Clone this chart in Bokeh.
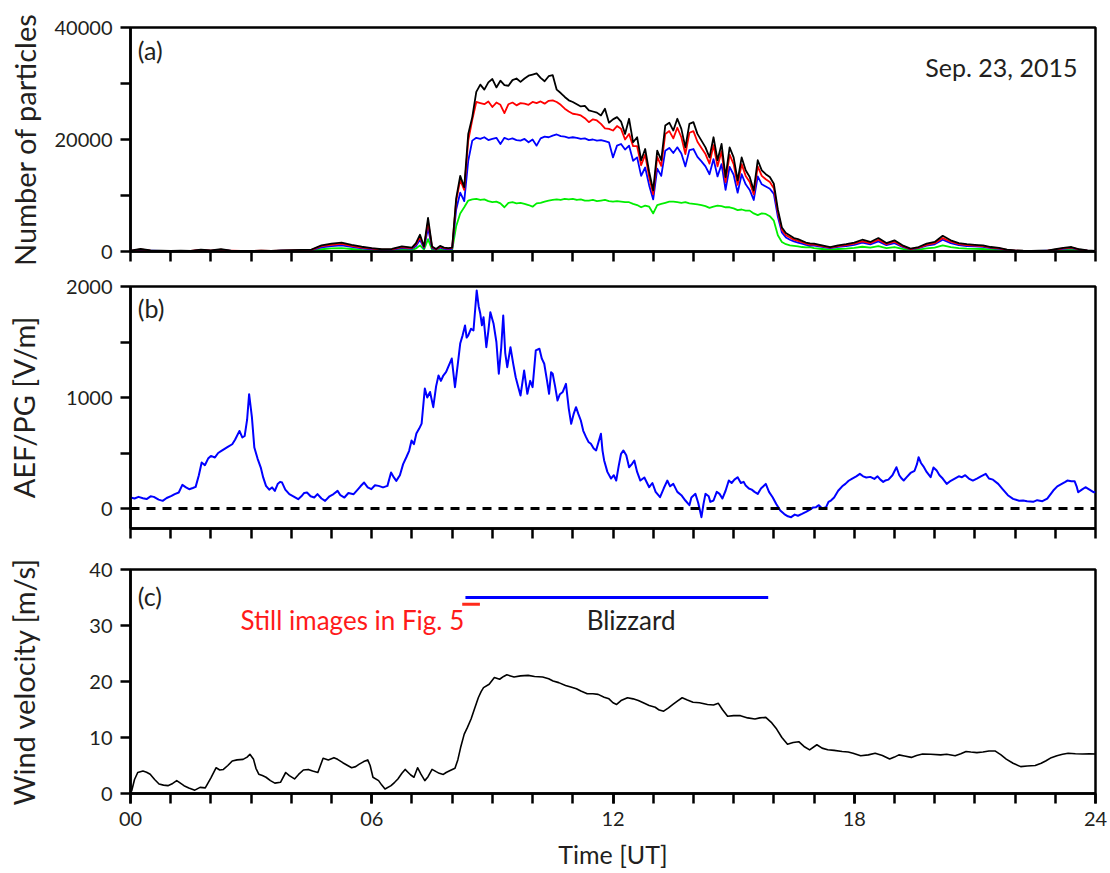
import numpy as np
from bokeh.plotting import figure
from bokeh.layouts import column
from bokeh.models import Range1d, FixedTicker, Span, Label
from bokeh.embed import file_html
from bokeh.resources import INLINE

FONT = "Lato"
INK = "#231f20"

# ---------------------------------------------------------------- (a) particle counts
# sample times in UT hours: 15-min steps before 07 UT, 6-min steps 07-17 UT, 12-min after
hours_particles = np.concatenate([
    np.arange(0, 28) * 0.25,
    np.arange(70, 170) / 10.0,
    np.arange(85, 121) * 0.2,
])

count_total = [
    150, 450, 200, 150, 100, 150, 120, 350, 180, 420, 150, 120, 100, 150,
    120, 200, 250, 300, 350, 1100, 1400, 1600, 1200, 850, 600, 400, 450, 900,
    700, 1500, 3000, 900, 6000, 900, 450, 1000, 700, 600,
    700, 9500, 13500, 11500, 21000, 24000, 28500, 29800, 28900, 30200,
    30800, 29300, 30500, 29700, 29600, 30600, 30900, 30300, 30900, 31400,
    31600, 31800, 31000, 30400, 31300, 31500, 28900, 28300, 27600, 27000,
    26700, 26300, 25900, 26000, 25200, 25000, 24800, 24300, 25500, 23000,
    23600, 24000, 23200, 21000, 23700, 19500, 20400, 16300, 18300, 14200,
    10900, 18000, 16300, 22500, 23000, 21600, 23700, 21900, 18600, 22800,
    23100, 21000, 19800, 18600, 16800, 20400, 16300, 19200, 13300, 18600,
    16800, 12700, 16800, 14500, 13300, 10900, 16300, 14500, 13800, 13300,
    12100, 7500, 4300, 3300, 2850, 2400, 2200, 1900, 1600, 1450,
    1400, 1100, 800, 1100, 1300, 1600, 2100, 1700, 2400, 1500,
    2000, 1100, 500, 800, 1400, 1700, 2800, 2000, 1500, 1300,
    1200, 1100, 800, 650, 350, 180, 130, 120, 130, 170,
    400, 650, 800, 400, 200, 120,
]

count_red = [
    120, 380, 170, 120, 90, 120, 100, 300, 150, 350, 130, 100, 90, 130,
    100, 170, 210, 250, 300, 950, 1200, 1350, 1000, 700, 500, 340, 380, 760,
    600, 1300, 2600, 780, 5300, 780, 380, 850, 600, 520,
    600, 9000, 12800, 11000, 19800, 23500, 26700, 26500, 26300, 26800,
    25800, 26600, 26200, 24700, 26300, 26600, 26100, 26500, 26400, 26200,
    26700, 26500, 26800, 26400, 26900, 27000, 26700, 26200, 25500, 25000,
    24600, 24500, 24300, 23800, 23100, 23600, 23400, 22800, 22000, 21900,
    21600, 22400, 21900, 20000, 21000, 18800, 18800, 15400, 17300, 13300,
    10200, 16900, 15300, 21000, 21500, 20200, 22100, 20400, 17400, 21200,
    21500, 19600, 18500, 17400, 15700, 19000, 15200, 17900, 12400, 17300,
    15600, 11900, 15600, 13500, 12400, 10200, 15200, 13500, 12900, 12400,
    11300, 7000, 3900, 2900, 2500, 2100, 1900, 1650, 1400, 1250,
    1220, 950, 700, 950, 1120, 1400, 1800, 1480, 2100, 1300,
    1750, 950, 430, 700, 1200, 1480, 2400, 1750, 1300, 1130,
    1050, 950, 700, 560, 300, 150, 110, 100, 110, 150,
    350, 560, 700, 350, 170, 100,
]

count_blue = [
    100, 300, 130, 100, 70, 100, 80, 240, 120, 290, 100, 80, 70, 100,
    80, 140, 170, 200, 240, 750, 950, 1100, 820, 580, 400, 270, 300, 600,
    480, 1000, 2100, 600, 4200, 600, 300, 680, 480, 400,
    480, 7500, 10500, 9000, 16200, 19800, 20300, 20100, 20400, 19900,
    20100, 20300, 19200, 20300, 20000, 20200, 19900, 19800, 20100, 19500,
    20000, 18900, 20200, 20500, 20400, 20700, 20900, 20600, 20500, 20300,
    20400, 20300, 20100, 20200, 19900, 20000, 19800, 19900, 19700, 19500,
    16800, 18900, 19200, 18200, 18900, 16200, 16800, 13500, 15000, 11800,
    9300, 14800, 13500, 18000, 18500, 17600, 18600, 17500, 15200, 18100,
    18300, 16900, 16100, 15200, 13800, 16500, 13400, 15600, 11000, 15100,
    13700, 10500, 13800, 12000, 11000, 9200, 13400, 12000, 11600, 11200,
    10300, 6200, 3400, 2500, 2100, 1800, 1600, 1400, 1200, 1050,
    1050, 830, 600, 830, 980, 1200, 1580, 1280, 1800, 1130,
    1500, 830, 380, 600, 1050, 1280, 2100, 1500, 1130, 980,
    900, 830, 600, 490, 260, 130, 100, 90, 100, 130,
    300, 490, 600, 300, 150, 90,
]

count_green = [
    50, 150, 70, 50, 40, 50, 40, 120, 60, 150, 50, 40, 40, 50,
    40, 70, 90, 100, 120, 400, 550, 600, 450, 300, 200, 140, 160, 320,
    250, 550, 1100, 320, 2200, 320, 160, 350, 250, 210,
    250, 4500, 6800, 7900, 9100, 9300, 9400, 9200, 9300, 9000,
    8800, 8900, 8600, 7900, 8700, 8800, 8600, 8700, 8500, 8300,
    8000, 8600, 8700, 8900, 9100, 9200, 9300, 9200, 9400, 9300,
    9400, 9200, 9300, 9100, 9100, 9200, 9000, 9100, 9200, 9000,
    8900, 9000, 8900, 8800, 8800, 8500, 8300, 7900, 8200, 8000,
    6800, 8300, 8500, 8700, 8900, 8900, 8800, 8700, 8800, 8600,
    8500, 8400, 8300, 8100, 7800, 8000, 8200, 8100, 7900, 7900,
    7700, 7400, 7500, 7300, 7300, 6800, 6500, 6800, 6700, 6300,
    5500, 2900, 1700, 1300, 1100, 1000, 900, 800, 750, 800,
    600, 450, 320, 450, 520, 640, 850, 680, 950, 600,
    800, 450, 200, 320, 560, 680, 1100, 800, 600, 520,
    480, 450, 320, 260, 140, 70, 50, 50, 50, 70,
    160, 260, 320, 160, 80, 50,
]

for series in (count_total, count_red, count_blue, count_green):
    assert len(series) == len(hours_particles)

# ---------------------------------------------------------------- (b) atmospheric electric field
hours_pg = [
    0.00, 0.10, 0.20, 0.31, 0.40, 0.50, 0.58, 0.70, 0.80, 0.90, 1.02, 1.10, 1.20, 1.29,
    1.38, 1.46, 1.55, 1.62, 1.70, 1.77, 1.85, 1.93, 2.00, 2.10, 2.18, 2.26, 2.35, 2.44,
    2.53, 2.60, 2.71, 2.78, 2.84, 2.90, 2.95, 3.02, 3.08, 3.16, 3.24, 3.30, 3.37, 3.45,
    3.52, 3.59, 3.66, 3.72, 3.77, 3.85, 3.95, 4.05, 4.17, 4.25, 4.32, 4.39, 4.48, 4.57,
    4.65, 4.75, 4.84, 4.95, 5.05, 5.15, 5.22, 5.32, 5.42, 5.55, 5.65, 5.72, 5.81, 5.90,
    5.99, 6.08, 6.17, 6.28, 6.39, 6.48, 6.55, 6.61, 6.70, 6.78, 6.86, 6.93, 6.99, 7.05,
    7.11, 7.18, 7.24, 7.32, 7.38, 7.45, 7.53, 7.60, 7.66, 7.72, 7.78, 7.85, 7.90, 7.99,
    8.07, 8.14, 8.20, 8.26, 8.32, 8.36, 8.40, 8.47, 8.53, 8.61, 8.66, 8.70, 8.74, 8.78,
    8.85, 8.90, 8.95, 9.03, 9.10, 9.16, 9.22, 9.27, 9.32, 9.37, 9.45, 9.52, 9.58, 9.64,
    9.70, 9.79, 9.87, 9.94, 10.00, 10.08, 10.17, 10.23, 10.29, 10.36, 10.41, 10.46, 10.50,
    10.56, 10.62, 10.68, 10.75, 10.83, 10.90, 10.96, 11.02, 11.08, 11.14, 11.20, 11.26,
    11.33, 11.39, 11.45, 11.52, 11.58, 11.64, 11.70, 11.74, 11.78, 11.86, 11.95, 12.02,
    12.08, 12.14, 12.20, 12.26, 12.33, 12.40, 12.47, 12.53, 12.60, 12.68, 12.78, 12.90,
    12.98, 13.06, 13.17, 13.26, 13.35, 13.42, 13.50, 13.60, 13.70, 13.80, 13.90, 13.95,
    14.05, 14.12, 14.20, 14.25, 14.30, 14.38, 14.42, 14.50, 14.58, 14.65, 14.72, 14.80,
    14.88, 14.95, 15.02, 15.10, 15.18, 15.25, 15.30, 15.38, 15.45, 15.52, 15.60, 15.68,
    15.74, 15.80, 15.88, 15.97, 16.06, 16.16, 16.26, 16.35, 16.43, 16.52, 16.60, 16.70,
    16.80, 16.90, 16.98, 17.05, 17.12, 17.20, 17.30, 17.36, 17.42, 17.50, 17.60, 17.70,
    17.78, 17.86, 17.95, 18.05, 18.14, 18.22, 18.30, 18.40, 18.50, 18.58, 18.65, 18.72,
    18.77, 18.85, 18.95, 19.05, 19.12, 19.18, 19.23, 19.30, 19.40, 19.50, 19.56, 19.60,
    19.66, 19.72, 19.80, 19.90, 19.97, 20.05, 20.12, 20.20, 20.30, 20.40, 20.50, 20.60,
    20.68, 20.76, 20.85, 20.95, 21.05, 21.15, 21.27, 21.35, 21.45, 21.58, 21.70, 21.82,
    21.95, 22.10, 22.20, 22.30, 22.45, 22.55, 22.68, 22.80, 22.95, 23.05, 23.15, 23.25,
    23.30, 23.40, 23.48, 23.53, 23.57, 23.66, 23.75, 23.85, 23.95, 24.00,
]

pg_vm = [
    100, 90, 105, 93, 85, 110, 105, 80, 69, 95, 114, 130, 144, 213,
    190, 174, 185, 195, 300, 414, 390, 450, 474, 460, 500, 519, 540, 560,
    579, 620, 699, 640, 654, 800, 1030, 820, 549, 450, 369, 280, 204, 170,
    190, 159, 220, 240, 234, 170, 129, 110, 84, 110, 140, 144, 110, 99,
    130, 90, 69, 110, 130, 159, 120, 99, 140, 129, 170, 200, 234, 190,
    174, 210, 204, 190, 204, 324, 280, 249, 300, 400, 462, 520, 612, 580,
    675, 720, 765, 1081, 1000, 1050, 913, 1100, 1198, 1150, 1198, 1230, 1273, 1351,
    1093, 1300, 1486, 1560, 1649, 1540, 1559, 1620, 1604, 1964, 1820, 1754, 1650, 1724,
    1453, 1600, 1769, 1664, 1500, 1214, 1450, 1739, 1400, 1273, 1453, 1300, 1183, 1100,
    1018, 1243, 1033, 1150, 1093, 1424, 1439, 1350, 1304, 1150, 1033, 1228, 1214,
    1100, 973, 1030, 1050, 1123, 900, 763, 850, 913, 850, 793, 700,
    643, 600, 583, 540, 523, 600, 673, 520, 433, 330, 270, 300,
    252, 380, 493, 523, 480, 372, 400, 432, 330, 252, 280, 192,
    230, 150, 102, 180, 252, 200, 222, 150, 120, 72, 30, 100,
    132, 50, -78, 40, 132, 110, 60, 72, 150, 132, 90, 160,
    252, 230, 260, 282, 230, 240, 207, 180, 170, 150, 132, 180,
    200, 222, 150, 102, 40, -18, -50, -70, -78, -55, -65, -48,
    -30, -10, 10, 12, 30, 0, 12, 60, 72, 100, 160, 200,
    222, 250, 270, 290, 312, 290, 280, 285, 267, 290, 260, 240,
    252, 260, 300, 372, 300, 270, 252, 280, 320, 340, 400, 462,
    410, 380, 330, 282, 370, 342, 300, 270, 222, 250, 270, 290,
    282, 300, 270, 252, 270, 290, 312, 270, 260, 222, 170, 120,
    87, 70, 72, 66, 60, 75, 66, 90, 162, 200, 220, 240,
    252, 245, 246, 200, 147, 170, 192, 170, 147, 150,
]
assert len(hours_pg) == len(pg_vm)

# ---------------------------------------------------------------- (c) wind velocity
hours_wind = [
    0.00, 0.03, 0.10, 0.18, 0.31, 0.40, 0.49, 0.60, 0.71, 0.82, 0.93, 1.05, 1.15, 1.25,
    1.33, 1.45, 1.60, 1.73, 1.86, 2.00, 2.13, 2.22, 2.31, 2.42, 2.53, 2.65, 2.80, 2.90,
    2.97, 3.06, 3.12, 3.19, 3.28, 3.37, 3.48, 3.59, 3.73, 3.86, 3.95, 4.08, 4.18, 4.30,
    4.42, 4.53, 4.66, 4.79, 4.92, 5.06, 5.15, 5.28, 5.40, 5.50, 5.60, 5.68, 5.80, 5.90,
    5.96, 6.03, 6.17, 6.25, 6.33, 6.48, 6.57, 6.65, 6.75, 6.83, 6.90, 6.97, 7.05, 7.14,
    7.22, 7.32, 7.40, 7.50, 7.60, 7.68, 7.78, 7.85, 7.95, 8.07, 8.14, 8.21, 8.30, 8.38,
    8.47, 8.55, 8.65, 8.72, 8.78, 8.92, 9.05, 9.18, 9.28, 9.36, 9.45, 9.54, 9.70, 9.89,
    10.05, 10.25, 10.40, 10.51, 10.65, 10.82, 10.95, 11.09, 11.20, 11.36, 11.50, 11.63,
    11.78, 11.90, 12.00, 12.09, 12.20, 12.36, 12.50, 12.63, 12.78, 12.90, 13.05, 13.15,
    13.26, 13.38, 13.49, 13.60, 13.72, 13.85, 13.99, 14.15, 14.35, 14.50, 14.62, 14.72,
    14.85, 15.00, 15.17, 15.35, 15.53, 15.65, 15.80, 15.95, 16.07, 16.20, 16.34, 16.48,
    16.62, 16.75, 16.89, 17.07, 17.20, 17.34, 17.50, 17.70, 17.85, 17.97, 18.16, 18.35,
    18.52, 18.70, 18.88, 19.00, 19.11, 19.25, 19.42, 19.55, 19.70, 19.90, 20.15, 20.30,
    20.51, 20.65, 20.78, 20.90, 21.05, 21.20, 21.35, 21.50, 21.65, 21.78, 21.95, 22.14,
    22.30, 22.50, 22.65, 22.77, 22.90, 23.04, 23.18, 23.32, 23.50, 23.68, 23.85, 24.00,
]

wind_ms = [
    0.5, 0.5, 2.5, 3.75, 4.0, 3.8, 3.45, 2.5, 1.7, 1.5, 1.4, 1.8, 2.3, 1.8,
    1.4, 1.0, 0.6, 1.1, 1.0, 2.8, 4.6, 4.2, 4.3, 5.0, 5.8, 6.0, 6.1, 6.5,
    7.0, 6.1, 4.5, 3.45, 3.2, 2.9, 2.3, 1.85, 2.0, 3.75, 3.2, 2.6, 3.4, 4.2,
    4.3, 4.0, 3.75, 6.3, 6.0, 6.4, 6.1, 5.5, 5.0, 4.6, 4.8, 5.2, 5.7, 6.0,
    5.0, 2.9, 2.3, 1.5, 0.8, 1.4, 2.0, 2.6, 3.6, 4.3, 3.8, 3.3, 2.9, 4.6,
    3.5, 2.3, 3.0, 4.3, 3.9, 3.6, 3.4, 3.75, 4.1, 4.5, 6.0, 8.2, 10.6, 11.8,
    13.3, 15.0, 17.1, 18.2, 18.9, 19.5, 20.7, 20.4, 20.9, 21.2, 21.0, 20.8, 21.0, 21.1,
    20.9, 20.8, 20.5, 20.1, 19.8, 19.3, 19.0, 18.7, 18.3, 17.8, 17.8, 17.7,
    17.2, 16.9, 16.2, 15.9, 16.6, 17.1, 16.9, 16.6, 16.1, 15.7, 15.4, 14.9,
    14.7, 15.3, 15.9, 16.5, 17.1, 16.7, 16.3, 16.2, 15.9, 15.8, 16.1, 15.0,
    13.8, 13.9, 13.9, 13.5, 13.3, 13.5, 13.6, 12.6, 11.5, 10.0, 8.8, 9.1,
    9.25, 8.4, 7.8, 8.7, 8.1, 7.8, 7.7, 7.5, 7.4, 7.2, 6.75, 6.9,
    7.2, 6.8, 6.15, 6.5, 6.9, 6.7, 6.45, 6.8, 7.05, 7.0, 6.9, 7.0,
    6.75, 7.1, 7.5, 7.4, 7.3, 7.4, 7.6, 7.6, 6.9, 6.15, 5.4, 4.8,
    4.9, 5.0, 5.4, 5.85, 6.4, 6.75, 7.0, 7.2, 7.1, 7.05, 7.1, 7.05,
]
assert len(hours_wind) == len(wind_ms)

# event bars drawn above the wind trace (start, end in UT hours; level in m/s)
blizzard_start, blizzard_end, blizzard_level = [8.33], [15.86], [35.0]
stills_start, stills_end, stills_level = [8.25], [8.69], [33.8]

# ---------------------------------------------------------------- shared styling
x_range = Range1d(0, 24)
labelled_hours = FixedTicker(ticks=[0, 6, 12, 18, 24], minor_ticks=list(range(25)))
plain_hours = FixedTicker(ticks=[], minor_ticks=list(range(25)))


def panel(height, border_top, border_bottom, y_range, ticks, minor, ylabel,
          label_standoff, x_ticker):
    p = figure(width=1110, height=height, x_range=x_range, y_range=y_range,
               output_backend="svg", toolbar_location=None,
               min_border_left=130, min_border_right=15,
               min_border_top=border_top, min_border_bottom=border_bottom,
               background_fill_color="white", border_fill_color="white")
    p.xgrid.visible = False
    p.ygrid.visible = False
    p.outline_line_color = "black"
    p.outline_line_width = 2.5
    p.outline_line_alpha = 1.0
    p.yaxis.ticker = FixedTicker(ticks=ticks, minor_ticks=minor)
    p.xaxis.ticker = x_ticker
    p.xaxis.major_label_overrides = {0: "00", 6: "06", 12: "12", 18: "18", 24: "24"}
    for ax in (p.xaxis[0], p.yaxis[0]):
        ax.axis_line_width = 2.5
        ax.axis_line_color = "black"
        ax.major_tick_line_width = 2.5
        ax.minor_tick_line_width = 2.5
        ax.major_tick_line_color = "black"
        ax.minor_tick_line_color = "black"
        ax.major_tick_out = 10
        ax.major_tick_in = 0
        ax.minor_tick_out = 10
        ax.minor_tick_in = 0
        ax.major_label_text_font = FONT
        ax.major_label_text_font_size = "20px"
        ax.major_label_text_color = INK
        ax.major_label_standoff = 8
        ax.axis_label_text_font = FONT
        ax.axis_label_text_font_style = "normal"
        ax.axis_label_text_color = INK
    p.yaxis.axis_label = ylabel
    p.yaxis.axis_label_text_font_size = "29px"
    p.yaxis.axis_label_standoff = label_standoff
    return p


def tag(p, x, y, text, size="25px", align="left", color=INK):
    p.add_layout(Label(x=x, y=y, text=text, text_font=FONT, text_font_size=size,
                       text_align=align, text_baseline="middle", text_color=color))


# ---------------------------------------------------------------- (a)
pa = panel(270, 27, 19, Range1d(0, 40000), [0, 20000, 40000], [10000, 30000],
           "Number of particles", 10, plain_hours)
for series, color in ((count_green, "#00ee00"), (count_blue, "#0000ff"),
                      (count_red, "#ff0000"), (count_total, "#000000")):
    pa.line(hours_particles, series, line_color=color, line_width=1.8, line_join="round")
tag(pa, 0.18, 36000, "(a)")
tag(pa, 23.55, 33000, "Sep. 23, 2015", size="25px", align="right")

# ---------------------------------------------------------------- (b)
pb = panel(275, 16, 17, Range1d(-180, 2000), [0, 1000, 2000], [500, 1500],
           "AEF/PG [V/m]", 22, plain_hours)
pb.add_layout(Span(location=0, dimension="width", line_color="black",
                   line_width=3, line_dash="9 7"))
pb.line(hours_pg, pg_vm, line_color="#0000ff", line_width=2, line_join="round")
tag(pb, 0.18, 1810, "(b)")

# ---------------------------------------------------------------- (c)
pc = panel(328, 24, 80, Range1d(0, 40), [0, 10, 20, 30, 40], [],
           "Wind velocity [m/s]", 45, labelled_hours)
pc.xaxis.axis_label = "Time [UT]"
pc.xaxis.axis_label_text_font_size = "25px"
pc.xaxis.axis_label_standoff = 10
pc.line(hours_wind, wind_ms, line_color="#000000", line_width=1.6, line_join="round")
pc.segment(x0=blizzard_start, y0=blizzard_level, x1=blizzard_end, y1=blizzard_level,
           line_color="#0000ff", line_width=3)
pc.segment(x0=stills_start, y0=stills_level, x1=stills_end, y1=stills_level,
           line_color="#ff2a1a", line_width=3)
tag(pc, 0.18, 35.2, "(c)")
tag(pc, 8.3, 31.0, "Still images in Fig. 5", size="26px", align="right", color="#ff1a1a")
tag(pc, 12.45, 31.0, "Blizzard", size="26px", align="center")

layout = column(pa, pb, pc)
open("out.html", "w").write(file_html(layout, INLINE))
